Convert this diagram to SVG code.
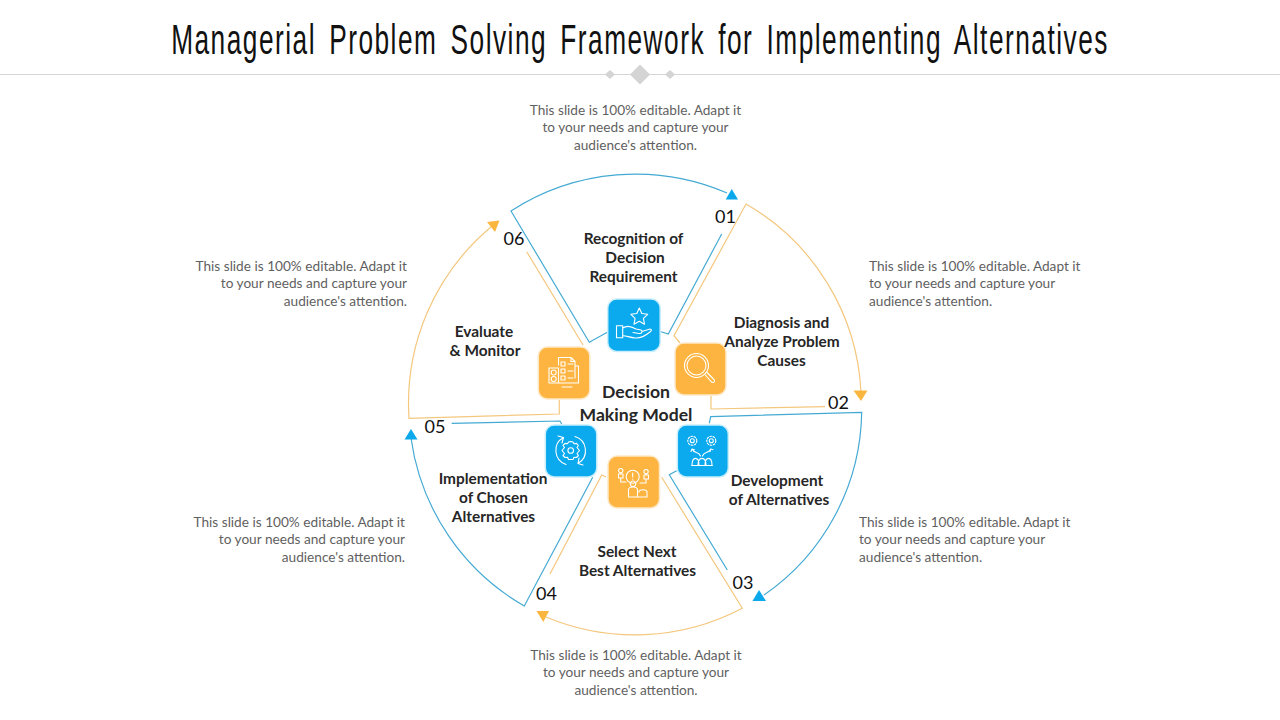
<svg xmlns="http://www.w3.org/2000/svg" width="1280" height="720" viewBox="0 0 1280 720">
<style>
text{font-family:Lato,"Open Sans",sans-serif}
.title{font-family:"Liberation Sans Narrow","Liberation Sans",sans-serif;font-size:42px;fill:#111;letter-spacing:2.4px;word-spacing:7px;text-anchor:middle}
.d{font-size:13.65px;fill:#5f5f5f}
.l{font-size:15.4px;font-weight:700;fill:#262626;text-anchor:middle}
.n{font-size:18px;fill:#111;text-anchor:middle}
.c{font-size:17.6px;font-weight:700;fill:#262626;text-anchor:middle}
.m{text-anchor:middle}.e{text-anchor:end}
.bl{fill:none;stroke:#45AAD3;stroke-width:1.2}
.or{fill:none;stroke:#F4C77E;stroke-width:1.2}
.ba{fill:#0BA8EC}.oa{fill:#FBB640}
.bi{fill:#0BA9EE;stroke:#C8EDFB;stroke-width:1.5}
.oi{fill:#FDB440;stroke:#FDE9C8;stroke-width:1.5}
.g{fill:none;stroke:#fff;stroke-width:1.1;stroke-linecap:round;stroke-linejoin:round}
</style>
<rect width="1280" height="720" fill="#fff"/>
<g id="header">
<text class="title" transform="translate(640 54) scale(.625 1)">Managerial Problem Solving Framework for Implementing Alternatives</text>
<path d="M0 74.5H1280" stroke="#D6D6D6" stroke-width="1"/>
<path d="M640 64.500L650 74.500L640 84.500L630 74.500ZM610 70L615 74.500L610 79L605 74.500ZM670 70L675 74.500L670 79L665 74.500Z" fill="#D4D4D4"/>
</g>
<g id="connectors">
<path class="bl" d="M721.700 234L668.300 334L661 331.700M607.300 332.300L589.300 342.300L511 211A230 230 0 0 1 727 193"/>
<polygon class="ba" points="731.700,189 738,199.500 725.700,199.500"/>
<path class="or" d="M680 343L674 335.700L746 204A230 230 0 0 1 861 392M711 396V409L825 406.700"/>
<polygon class="oa" points="853.500,390.500 867.500,390.500 861,401"/>
<path class="bl" d="M709.300 423.300L710.700 416.700L861.700 412.300A226 226 0 0 1 764 595M676.700 470.700L669.300 474.700L727.300 570"/>
<polygon class="ba" points="759,590 766,601 752.500,601"/>
<path class="or" d="M661.700 477.300L742.300 608.300A230 230 0 0 1 546 617M550 574L601.700 475L606 477"/>
<polygon class="oa" points="536.500,611 549,611 543.300,622"/>
<path class="bl" d="M592.700 477.300L524.300 606A230 230 0 0 1 411 438M451.700 423.300L560 421L561.700 424"/>
<polygon class="ba" points="411,429 417.500,439.500 404.500,439.500"/>
<path class="or" d="M559.300 400V414L409 418.300A230 230 0 0 1 491 227M526.700 251.700L583 345"/>
<polygon class="oa" points="487,222 499.500,220.500 495,232"/>
</g>
<g id="center"><text class="c" x="636" y="398">Decision</text><text class="c" x="636" y="421">Making Model</text></g>
<g id="node-01">
<rect class="bi" x="607.700" y="299" width="52.500" height="52.500" rx="9"/>
<path class="g" d="M639.300 308L641.800 313.500L647.700 314.300L643.400 318.300L644.500 324.200L639.300 321.300L634 324.200L635.100 318.300L630.900 314.300L636.800 313.500Z"/>
<path class="g" d="M616.500 325.800H622.700V337.800H616.500ZM622.700 328C627 325 631 326 636 329L641 330C643 331 642 334 639 333.500L633 332.500M642 331.500L650 329C652 329 651.500 331 650 332C645 336 640 338.500 635 338C630 337.500 627 336 622.700 335.500"/>
<text class="l" x="633.500" y="244">Recognition of</text><text class="l" x="635" y="263">Decision</text><text class="l" x="633.500" y="282">Requirement</text>
<text class="n" x="725.500" y="223">01</text>
<text class="d m" x="635.500" y="115">This slide is 100% editable. Adapt it</text><text class="d m" x="635.500" y="132">to your needs and capture your</text><text class="d m" x="635.500" y="150">audience's attention.</text>
</g>
<g id="node-02">
<rect class="oi" x="675" y="343" width="51" height="52" rx="9"/>
<circle class="g" cx="696.500" cy="365.500" r="12"/><circle class="g" cx="696.500" cy="365.500" r="9.500"/>
<path class="g" d="M705 374.500L711 381.500Q713 383.500 714.500 381.500Q715 380 713.500 379L707 372.500"/>
<text class="l" x="781.500" y="328">Diagnosis and</text><text class="l" x="782" y="347">Analyze Problem</text><text class="l" x="781.500" y="366">Causes</text>
<text class="n" x="838.500" y="409">02</text>
<text class="d" x="869" y="271">This slide is 100% editable. Adapt it</text><text class="d" x="869" y="288">to your needs and capture your</text><text class="d" x="869" y="306">audience's attention.</text>
</g>
<g id="node-03">
<rect class="bi" x="677.300" y="425" width="51" height="52" rx="9"/>
<circle class="g" cx="692.300" cy="440.800" r="4.500" stroke-width="1.800" stroke-dasharray="1.700 1.500"/><circle class="g" cx="692.300" cy="440.800" r="2"/><circle class="g" cx="711.300" cy="440.800" r="4.500" stroke-width="1.800" stroke-dasharray="1.700 1.500"/><circle class="g" cx="711.300" cy="440.800" r="2"/>
<path class="g" d="M691 451.500L692 449L694.500 449.700M692.300 449.300C694 454 699 451 700.500 456M713 449.700L710.700 449L710 451.500M710.700 449.300C708 454 704 451 702.500 456M692 465.500C692 456 699 456 699 465.500M698 465.500C698 456 706 456 706 465.500M705 465.500C705 456 712 456 712 465.500M691.500 465.500H712.500"/>
<text class="l" x="777" y="486">Development</text><text class="l" x="779" y="505">of Alternatives</text>
<text class="n" x="743" y="589">03</text>
<text class="d" x="859" y="527">This slide is 100% editable. Adapt it</text><text class="d" x="859" y="544">to your needs and capture your</text><text class="d" x="859" y="562">audience's attention.</text>
</g>
<g id="node-04">
<rect class="oi" x="608" y="456" width="51.500" height="52" rx="9"/>
<circle class="g" cx="632.700" cy="476.700" r="6.500"/>
<path class="g" d="M632.700 473V477M632.700 479V479.300M628.500 497V490C628.500 486 637.500 486 637.500 490V497ZM628.500 497H647V492C647 489 639 489 639 492M620.700 468.500a2.200 2.200 0 1 0 .1 0M646 469.500a2.200 2.200 0 1 0 .1 0M633 481a2.800 2.800 0 1 0 .1 0M618.500 478H623V474H618.500ZM644 479H648.500V475H644ZM620.700 478V482H626M646 479V483H640"/>
<text class="l" x="637" y="557">Select Next</text><text class="l" x="637.500" y="576">Best Alternatives</text>
<text class="n" x="546.500" y="600">04</text>
<text class="d m" x="636" y="660">This slide is 100% editable. Adapt it</text><text class="d m" x="636" y="677">to your needs and capture your</text><text class="d m" x="636" y="695">audience's attention.</text>
</g>
<g id="node-05">
<rect class="bi" x="545.300" y="425" width="51.500" height="52" rx="9"/>
<circle class="g" cx="570.700" cy="450.500" r="2.800"/>
<path class="g" d="M570.700 441.500L573 442L574 443.800L576.500 443.400L578.400 445.500L577 447.500L579.500 450.500L577 453.500L578.400 455.500L576.500 457.500L574 457.200L573 459.500H568.500L567.500 457.200L565 457.500L563 455.500L564.500 453.500L562 450.500L564.500 447.500L563 445.500L565 443.400L567.500 443.800L568.500 442Z"/>
<path class="g" d="M566 464.500A14.800 14.800 0 0 1 563.500 437.500M575 436.500A14.800 14.800 0 0 1 578 463.500M558 436L563.500 437.500L562 443M583 465L578 463.500L579 458"/>
<text class="l" x="493" y="484">Implementation</text><text class="l" x="493.500" y="503">of Chosen</text><text class="l" x="493.500" y="522">Alternatives</text>
<text class="n" x="435" y="433">05</text>
<text class="d e" x="405" y="527">This slide is 100% editable. Adapt it</text><text class="d e" x="405" y="544">to your needs and capture your</text><text class="d e" x="405" y="562">audience's attention.</text>
</g>
<g id="node-06">
<rect class="oi" x="538.300" y="347" width="51.500" height="52" rx="9"/>
<path class="g" d="M558.500 365V357.500H571L575 361.500V378M554 383H578.500V366H575M571 357.500V361.500H575M549 368H558.500V383H549ZM553.700 372.500m-2.500 0a2.500 2.500 0 1 0 5 0a2.500 2.500 0 1 0 -5 0M553.700 379m-2.500 0a2.500 2.500 0 1 0 5 0a2.500 2.500 0 1 0 -5 0M561 362H565V366H561ZM561 369H565V373H561ZM561 376H565V380H561ZM568 364H573M568 371H573M568 378H573M562 387H572"/>
<text class="l" x="484" y="337">Evaluate</text><text class="l" x="485" y="356">&amp; Monitor</text>
<text class="n" x="514" y="245">06</text>
<text class="d e" x="407" y="271">This slide is 100% editable. Adapt it</text><text class="d e" x="407" y="288">to your needs and capture your</text><text class="d e" x="407" y="306">audience's attention.</text>
</g>
</svg>
